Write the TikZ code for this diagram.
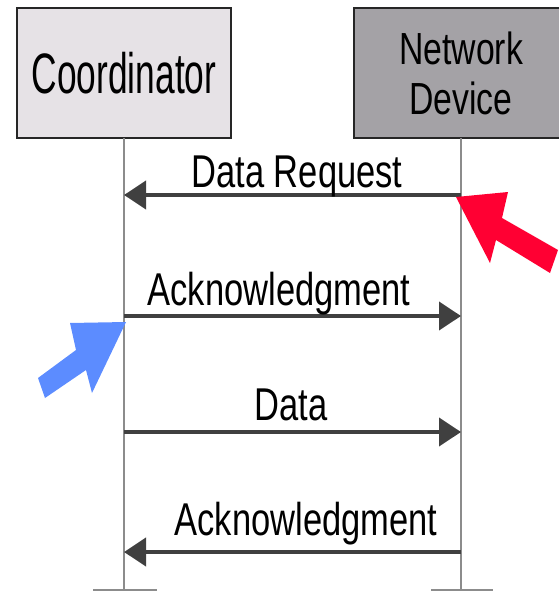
\documentclass[tikz,border=0pt]{standalone}
\usepackage{fontspec}
\setmainfont{Liberation Sans}[FakeStretch=0.75]
\newfontfamily\coordfont{Liberation Sans}[FakeStretch=0.62]
\usetikzlibrary{arrows.meta}
\definecolor{hintred}{RGB}{255,0,51}
\definecolor{hintblue}{RGB}{92,140,255}

\begin{document}
\begin{tikzpicture}[x=1pt,y=-1pt,every node/.style={outer sep=0pt}]
	\tikzstyle{unit}=[draw=black!85,line width=2pt,minimum width=214pt,minimum height=130pt,inner sep=0pt,align=center]
	\tikzstyle{life}=[draw=black!45,line width=1.8pt]
	\tikzstyle{msg}=[draw=black!75,line width=4pt,-{Triangle[length=22pt,width=28pt]}]
	\tikzstyle{lbl}=[anchor=base,inner sep=0pt,font=\fontsize{46}{50}\selectfont]
	\useasboundingbox (0,0) rectangle (558,591);

	\node (Coord) [unit,fill={rgb,255:red,230;green,226;blue,230}] at (124,73) {\coordfont\fontsize{57}{60}\selectfont Coordinator};	% Koordinator
	\node (Dev) [unit,fill={rgb,255:red,164;green,162;blue,166},font=\fontsize{45}{50}\selectfont] at (461,73) {Network\\Device};	% Netzgeraet

	\coordinate (cEnd) at (124,591);
	\coordinate (dEnd) at (461,591);
	\draw [life] (Coord.south) -- (cEnd);												% Lebenslinie
	\draw [life] (Dev.south) -- (dEnd);
	\draw [life] (cEnd) ++(-31,-1) -- +(64,0);
	\draw [life] (dEnd) ++(-30,-1) -- +(62,0);

	\coordinate (c1) at (124,195); \coordinate (d1) at (461,195);
	\coordinate (c2) at (124,316); \coordinate (d2) at (461,316);
	\coordinate (c3) at (124,432); \coordinate (d3) at (461,432);
	\coordinate (c4) at (124,552); \coordinate (d4) at (461,552);

	\draw [msg] (d1) -- (c1);
	\node (L1) [lbl] at (297,187) {Data Request};
	\draw [msg] (c2) -- (d2);
	\node (L2) [lbl] at (279,305) {Acknowledgment};
	\draw [msg] (c3) -- (d3);
	\node (L3) [lbl] at (291,420) {Data};
	\draw [msg] (d4) -- (c4);
	\node (L4) [lbl] at (306,535) {Acknowledgment};

	\fill [hintred] (456,197) -- (508,192) -- (502,218) -- (558,250) -- (550,273) -- (496,240) -- (490,263) -- cycle;	% roter Pfeil
	\fill [hintblue] (126,322) -- (70,323) -- (76,350) -- (38,378) -- (45,398) -- (86,370) -- (92,393) -- cycle;	% blauer Pfeil
\end{tikzpicture}
\end{document}
